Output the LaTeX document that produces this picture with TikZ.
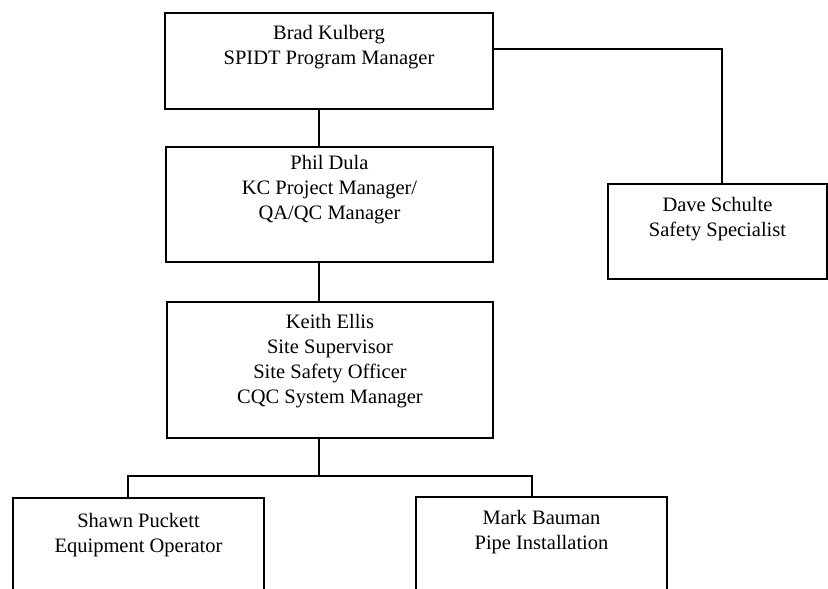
\documentclass[tikz,border=0pt]{standalone}
\usepackage{fontspec}
\setmainfont{Liberation Serif}
\newcommand\orgfont{\fontsize{20.5}{25}\selectfont}
\tikzset{
  box/.style={draw, line width=2pt, anchor=north west, inner sep=0pt},
  who/.style={anchor=north, align=center, font=\orgfont, inner sep=0pt},
  link/.style={line width=2pt, line join=miter},
}
\begin{document}
\begin{tikzpicture}[x=1pt, y=-1pt]
  \useasboundingbox (0,0) rectangle (828,589);
  \clip (0,0) rectangle (828,589);
  % boxes
  \node[box, minimum width=328pt, minimum height=96pt] (brad) at (164,12) {};
  \node[who] (bradtxt) at ([yshift=-13pt]brad.north) {Brad Kulberg\\SPIDT Program Manager};
  \node[box, minimum width=327pt, minimum height=115pt] (phil) at (165,146) {};
  \node[who] (philtxt) at ([yshift=-9pt]phil.north) {Phil Dula\\KC Project Manager/\\QA/QC Manager};
  \node[box, minimum width=326pt, minimum height=136pt] (keith) at (166,301) {};
  \node[who] (keithtxt) at ([yshift=-13pt]keith.north) {Keith Ellis\\Site Supervisor\\Site Safety Officer\\CQC System Manager};
  \node[box, minimum width=219pt, minimum height=95pt] (dave) at (607,183) {};
  \node[who] (davetxt) at ([yshift=-14pt]dave.north) {Dave Schulte\\Safety Specialist};
  \node[box, minimum width=251pt, minimum height=150pt] (shawn) at (12,497) {};
  \node[who] (shawntxt) at ([yshift=-16pt]shawn.north) {Shawn Puckett\\Equipment Operator};
  \node[box, minimum width=251pt, minimum height=150pt] (mark) at (415,496) {};
  \node[who] (marktxt) at ([yshift=-14pt]mark.north) {Mark Bauman\\Pipe Installation};
  % connector tracks
  \coordinate (spine) at (319,0);
  \coordinate (bar) at (0,476);
  \coordinate (tee) at (0,49);
  \coordinate (dropdave) at (722,0);
  \coordinate (dropshawn) at (128,0);
  \coordinate (dropmark) at (532,0);
  \draw[link] (brad.south -| spine) -- (phil.north -| spine);
  \draw[link] (phil.south -| spine) -- (keith.north -| spine);
  \draw[link] (keith.south -| spine) -- (bar -| spine);
  \draw[link] (shawn.north -| dropshawn) -- (bar -| dropshawn) -- (bar -| dropmark) -- (mark.north -| dropmark);
  \draw[link] (brad.east |- tee) -| (dave.north -| dropdave);
\end{tikzpicture}
\end{document}
